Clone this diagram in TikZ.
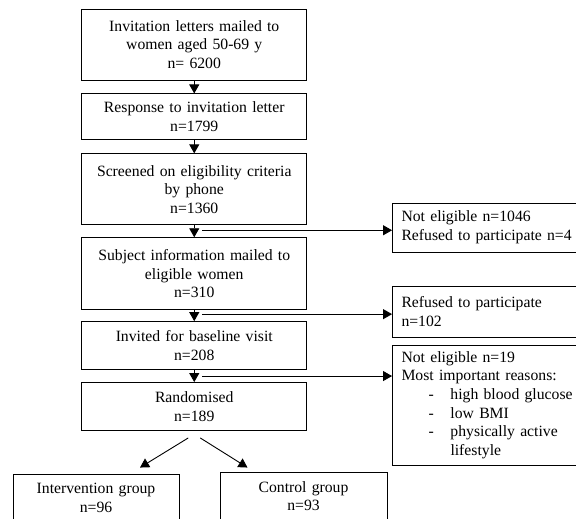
\documentclass[tikz,border=0pt]{standalone}
\usepackage{fontspec}
\setmainfont{Liberation Serif}
\usetikzlibrary{positioning,arrows.meta}

\tikzset{
	flowbox/.style={
		draw=black,           % black border
		line width=0.9pt,     % border thickness
		rectangle,            % shape
		align=center,         % centred lines
		text width=205pt,     % line length
		inner xsep=10pt,      % side padding
		inner ysep=0pt,
		font=\fontsize{15.7}{18.6}\selectfont
	},
	sidebox/.style={
		flowbox,
		align=left,           % left aligned lines
		text width=180pt,
		inner xsep=9pt
	},
	flowarrow/.style={
		-{Triangle[length=9pt,width=10pt]},
		line width=0.9pt
	}
}

\begin{document}
\begin{tikzpicture}[x=1pt,y=-1pt]
	\useasboundingbox (0,0) rectangle (576,519);

	% main column
	\node[flowbox, minimum height=71pt] (invite) at (194.25,44.5)
		{Invitation letters mailed to\\women aged 50-69 y\\n= 6200};
	\node[flowbox, minimum height=46pt, below=13pt of invite] (response)
		{Response to invitation letter\\n=1799};
	\node[flowbox, minimum height=71pt, below=13pt of response] (screened)
		{Screened on eligibility criteria\\by phone\\n=1360};
	\node[flowbox, minimum height=72pt, below=12pt of screened] (mailed)
		{Subject information mailed to\\eligible women\\n=310};
	\node[flowbox, minimum height=48pt, below=11pt of mailed] (baseline)
		{Invited for baseline visit\\n=208};
	\node[flowbox, minimum height=48pt, below=12pt of baseline] (random)
		{Randomised\\n=189};

	% excluded at each step
	\node[sidebox, minimum height=49pt] (noteligA) at (491.5,227.5)
		{Not eligible n=1046\\Refused to participate n=4};
	\node[sidebox, minimum height=51pt] (refused) at (491.5,311.5)
		{Refused to participate\\n=102};
	\node[sidebox, minimum height=120pt] (noteligB) at (491.5,405)
		{Not eligible n=19\\Most important reasons:\\
		\hspace*{27pt}\makebox[22pt][l]{-}high blood glucose\\
		\hspace*{27pt}\makebox[22pt][l]{-}low BMI\\
		\hspace*{27pt}\makebox[22pt][l]{-}physically active\\
		\hspace*{49pt}lifestyle};

	% groups
	\node[flowbox, text width=146pt, minimum height=48pt] (interv) at (96,498)
		{Intervention group\\n=96};
	\node[flowbox, text width=147pt, minimum height=48pt] (control) at (303.5,496)
		{Control group\\n=93};

	% connectors
	\draw[flowarrow] (invite) -- (response);
	\draw[flowarrow] (response) -- (screened);
	\draw[flowarrow] (screened) -- (mailed);
	\draw[flowarrow] (mailed) -- (baseline);
	\draw[flowarrow] (baseline) -- (random);

	\coordinate (outA) at ([xshift=8pt,yshift=-5pt]screened.south);
	\coordinate (outB) at ([xshift=8pt,yshift=-4pt]mailed.south);
	\coordinate (outC) at ([xshift=8pt,yshift=-6pt]baseline.south);
	\draw[flowarrow] (outA) -- (outA -| noteligA.west);
	\draw[flowarrow] (outB) -- (outB -| refused.west);
	\draw[flowarrow] (outC) -- (outC -| noteligB.west);

	\coordinate (splitL) at ([xshift=-6pt,yshift=-7pt]random.south);
	\coordinate (splitR) at ([xshift=6pt,yshift=-7pt]random.south);
	\coordinate (tipL) at ([xshift=44pt,yshift=6pt]interv.north);
	\coordinate (tipR) at ([xshift=-56pt,yshift=4pt]control.north);
	\draw[flowarrow] (splitL) -- (tipL);
	\draw[flowarrow] (splitR) -- (tipR);
\end{tikzpicture}
\end{document}
